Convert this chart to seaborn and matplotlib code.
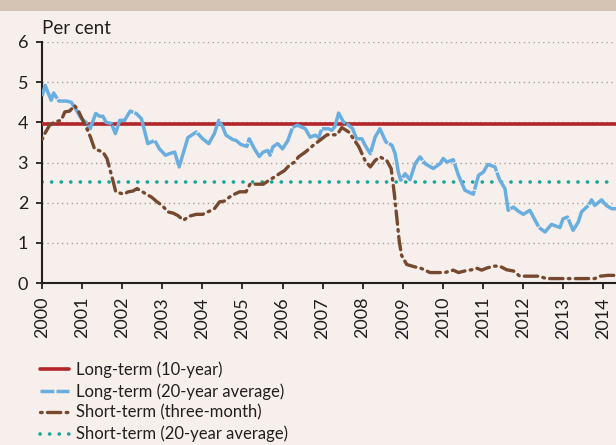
import numpy as np
import pandas as pd
import seaborn as sns
import matplotlib.pyplot as plt

# blue series: long-term, 20-year average (as labelled)
lt_years = [2000.00, 2000.08, 2000.11, 2000.23, 2000.29, 2000.42, 2000.61, 2000.73, 2000.86, 2000.98,
            2001.10, 2001.20, 2001.34, 2001.44, 2001.52, 2001.60, 2001.73, 2001.83, 2001.94, 2002.06,
            2002.20, 2002.35, 2002.48, 2002.64, 2002.81, 2002.93, 2003.08, 2003.18, 2003.31, 2003.42,
            2003.52, 2003.64, 2003.85, 2004.01, 2004.16, 2004.30, 2004.41, 2004.51, 2004.59, 2004.76,
            2004.84, 2004.96, 2005.11, 2005.17, 2005.30, 2005.42, 2005.52, 2005.63, 2005.69, 2005.76,
            2005.88, 2006.00, 2006.13, 2006.25, 2006.37, 2006.57, 2006.69, 2006.82, 2006.90, 2006.98,
            2007.15, 2007.23, 2007.31, 2007.40, 2007.52, 2007.65, 2007.75, 2007.85, 2007.98, 2008.06,
            2008.19, 2008.31, 2008.43, 2008.58, 2008.73, 2008.81, 2008.89, 2008.95, 2009.06, 2009.18,
            2009.31, 2009.43, 2009.56, 2009.76, 2009.93, 2010.01, 2010.10, 2010.26, 2010.39, 2010.55,
            2010.76, 2010.89, 2011.01, 2011.12, 2011.30, 2011.42, 2011.55, 2011.63, 2011.76, 2011.88,
            2012.01, 2012.17, 2012.26, 2012.40, 2012.55, 2012.71, 2012.92, 2013.00, 2013.11, 2013.25,
            2013.38, 2013.46, 2013.63, 2013.71, 2013.79, 2013.96, 2014.08, 2014.21, 2014.32]
lt_values = [4.65, 4.92, 4.84, 4.55, 4.73, 4.53, 4.53, 4.50, 4.30, 4.09,
             4.00, 3.84, 4.22, 4.15, 4.15, 4.00, 3.97, 3.72, 4.05, 4.05,
             4.28, 4.22, 4.09, 3.47, 3.55, 3.34, 3.18, 3.22, 3.26, 2.89,
             3.22, 3.62, 3.76, 3.59, 3.47, 3.72, 4.05, 3.88, 3.68, 3.57,
             3.55, 3.45, 3.40, 3.59, 3.34, 3.15, 3.26, 3.30, 3.18, 3.39,
             3.47, 3.34, 3.54, 3.87, 3.93, 3.84, 3.63, 3.68, 3.62, 3.84,
             3.84, 3.80, 3.90, 4.23, 4.01, 3.93, 3.84, 3.59, 3.59, 3.43,
             3.22, 3.63, 3.84, 3.51, 3.43, 3.22, 2.76, 2.56, 2.72, 2.57,
             2.97, 3.14, 2.97, 2.85, 2.97, 3.10, 3.01, 3.07, 2.68, 2.31,
             2.21, 2.68, 2.76, 2.95, 2.89, 2.56, 2.35, 1.81, 1.89, 1.79,
             1.71, 1.81, 1.64, 1.38, 1.27, 1.46, 1.38, 1.60, 1.64, 1.31,
             1.52, 1.77, 1.93, 2.07, 1.93, 2.07, 1.93, 1.85, 1.85]

# brown series: short-term, three-month
st_years = [2000.00, 2000.07, 2000.19, 2000.32, 2000.48, 2000.57, 2000.69, 2000.81, 2000.90, 2001.02,
            2001.12, 2001.21, 2001.31, 2001.44, 2001.52, 2001.62, 2001.69, 2001.79, 2001.84, 2001.94,
            2002.04, 2002.15, 2002.27, 2002.37, 2002.48, 2002.60, 2002.73, 2002.87, 2003.00, 2003.14,
            2003.27, 2003.39, 2003.53, 2003.66, 2003.85, 2004.01, 2004.18, 2004.30, 2004.43, 2004.55,
            2004.68, 2004.80, 2004.93, 2005.09, 2005.19, 2005.36, 2005.52, 2005.67, 2005.80, 2005.92,
            2006.05, 2006.17, 2006.30, 2006.40, 2006.57, 2006.77, 2006.98, 2007.11, 2007.36, 2007.48,
            2007.65, 2007.77, 2007.90, 2008.06, 2008.19, 2008.31, 2008.43, 2008.60, 2008.71, 2008.79,
            2008.85, 2008.91, 2008.97, 2009.10, 2009.27, 2009.47, 2009.68, 2009.89, 2010.05, 2010.26,
            2010.39, 2010.55, 2010.72, 2010.84, 2010.97, 2011.09, 2011.26, 2011.42, 2011.59, 2011.76,
            2011.92, 2012.13, 2012.38, 2012.59, 2012.88, 2013.21, 2013.54, 2013.79, 2013.92, 2014.12,
            2014.32]
st_values = [3.57, 3.72, 3.93, 4.01, 4.05, 4.26, 4.28, 4.42, 4.30, 4.05,
             3.84, 3.63, 3.34, 3.29, 3.26, 3.10, 2.85, 2.47, 2.27, 2.24,
             2.21, 2.27, 2.29, 2.35, 2.29, 2.21, 2.14, 2.02, 1.93, 1.77,
             1.74, 1.68, 1.56, 1.66, 1.71, 1.71, 1.79, 1.85, 2.02, 2.04,
             2.14, 2.21, 2.27, 2.27, 2.46, 2.46, 2.46, 2.56, 2.64, 2.72,
             2.80, 2.93, 3.01, 3.14, 3.26, 3.43, 3.59, 3.69, 3.69, 3.87,
             3.76, 3.59, 3.40, 3.05, 2.89, 3.05, 3.14, 3.05, 2.85, 2.22,
             1.64, 1.06, 0.69, 0.46, 0.41, 0.36, 0.26, 0.26, 0.26, 0.32,
             0.26, 0.30, 0.33, 0.37, 0.32, 0.37, 0.42, 0.42, 0.33, 0.30,
             0.17, 0.17, 0.17, 0.11, 0.11, 0.11, 0.11, 0.11, 0.17, 0.19,
             0.19]

# flat reference lines
lt_10y_level = 3.97
st_avg_level = 2.52
flat_span = [2000.0, 2014.32]

labels = ['Long-term (10-year)', 'Long-term (20-year average)',
          'Short-term (three-month)', 'Short-term (20-year average)']
year_ticks = list(range(2000, 2015))

bg = '#f6efec'
ink = '#231f20'
sns.set_theme(style='white')
plt.rcParams['font.family'] = ['Lato', 'DejaVu Sans']

fig = plt.figure(figsize=(6.16, 4.45), dpi=100, facecolor=bg)
fig.patches.append(plt.Rectangle((0, 445 - 11), 616, 11, transform=None,
                                 facecolor='#d5c4b3', edgecolor='none'))
ax = fig.add_axes([42 / 616, 162 / 445, 1 - 42 / 616, 241 / 445])
ax.set_facecolor(bg)

for v in [1, 2, 3, 4, 5, 6]:
    ax.axhline(v, color='#a6a3a1', lw=1.0, linestyle=(0, (1, 2.5)), zorder=1)

sns.lineplot(x=flat_span, y=[lt_10y_level] * 2, ax=ax, color='#b3252b', lw=2.6,
             label=labels[0], zorder=3)
sns.lineplot(x=lt_years, y=lt_values, ax=ax, color='#6aaedf', lw=2.5,
             linestyle=(0, (12, 0.35)), label=labels[1], zorder=4)
sns.lineplot(x=st_years, y=st_values, ax=ax, color='#76492f', lw=2.4,
             linestyle=(0, (0.5, 1.6, 4, 1.6)), dash_capstyle='round',
             label=labels[2], zorder=5)
sns.lineplot(x=flat_span, y=[st_avg_level] * 2, ax=ax, color='#1ba597', lw=2.6,
             linestyle=(0, (0.05, 2.6)), dash_capstyle='round', label=labels[3], zorder=2)

ax.set_xlim(2000, 2014.32)
ax.set_ylim(0, 6)
ax.set_xticks(year_ticks)
ax.set_xticklabels([str(y) for y in year_ticks], rotation=90)
ax.set_yticks(range(0, 7))
ax.tick_params(axis='both', direction='out', length=4, width=1.3, color=ink,
               labelsize=13, labelcolor=ink, bottom=True, left=True)
ax.tick_params(axis='x', pad=6)
ax.tick_params(axis='y', pad=6)
for s in ['top', 'right']:
    ax.spines[s].set_visible(False)
for s in ['left', 'bottom']:
    ax.spines[s].set_color(ink)
    ax.spines[s].set_linewidth(1.5)
ax.set_xlabel('')
ax.set_ylabel('')
ax.text(0.0, 1.02, 'Per cent', transform=ax.transAxes, fontsize=13.5,
        color=ink, ha='left', va='bottom')

leg = ax.legend(loc='upper left', bbox_to_anchor=(33 / 616, 1 - 355 / 445),
                bbox_transform=fig.transFigure, frameon=False, fontsize=12,
                handlelength=1.75, handletextpad=0.45, labelspacing=0.3,
                borderaxespad=0, labelcolor=ink)
# legend swatch for the blue series shows its dashes
leg.get_lines()[1].set_linestyle((0, (4, 0.6)))

fig.savefig('out.png', dpi=100, facecolor=bg)
